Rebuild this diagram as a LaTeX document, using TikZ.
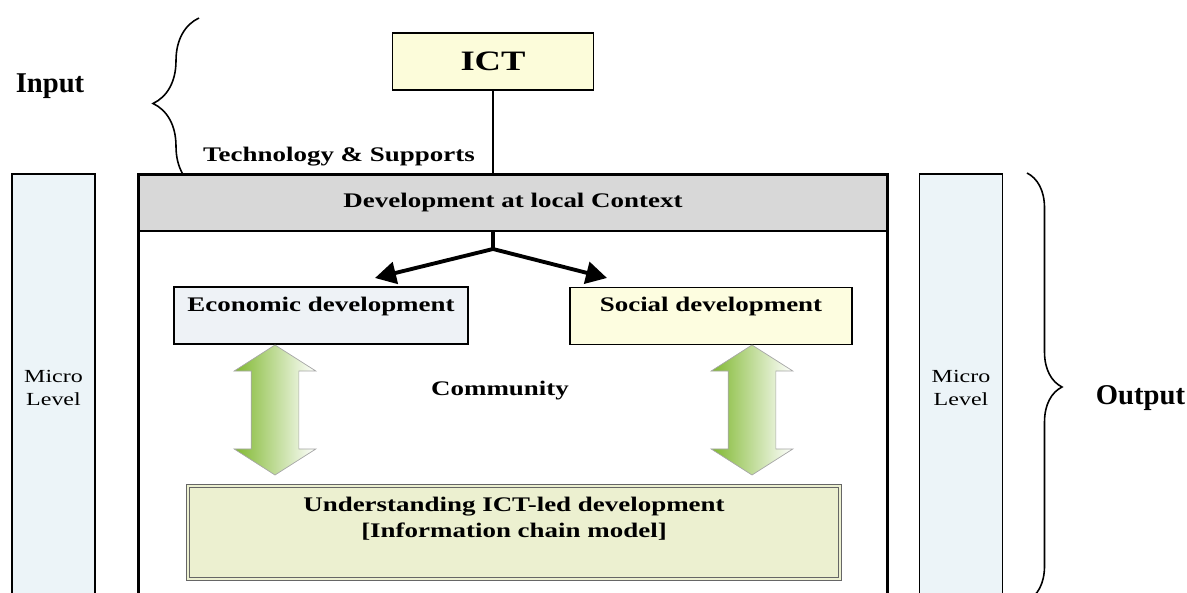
\documentclass[tikz,border=0pt]{standalone}
\usepackage{fontspec}
\setmainfont{Liberation Serif}
\newfontfamily\boxfont[FakeStretch=1.3]{Liberation Serif}
\usetikzlibrary{arrows.meta,shapes.arrows,decorations.pathreplacing}

\definecolor{ictyellow}{RGB}{252,252,218}
\definecolor{bargray}{RGB}{216,216,216}
\definecolor{econblue}{RGB}{238,242,246}
\definecolor{socialyellow}{RGB}{253,253,224}
\definecolor{chaingreen}{RGB}{236,240,208}
\definecolor{microblue}{RGB}{236,244,248}
\definecolor{arrowgreen}{RGB}{128,184,48}

\begin{document}
\begin{tikzpicture}[font=\boxfont\bfseries\fontsize{11.8}{14.7}\selectfont,
  box/.style={draw, line width=1.1pt, minimum height=1.14cm, text depth=0.45cm},
  micro/.style={draw, line width=1.1pt, fill=microblue, minimum width=1.66cm,
    minimum height=8.56cm, align=center, font=\boxfont\fontsize{10.5}{13}\selectfont},
  updown/.style={double arrow, rotate=90, minimum height=2.6cm, minimum width=1.62cm,
    inner xsep=0pt, inner ysep=0.47cm, double arrow head extend=0.34cm,
    double arrow tip angle=115, left color=arrowgreen, right color=white,
    draw=gray!70, line width=0.4pt},
  side/.style={font=\bfseries\fontsize{16.3}{19}\selectfont, anchor=base}]
  \useasboundingbox (0,0) rectangle (23.74,11.84);

  \node[side] (input) at (1.0,9.98) {Input};
  \draw[line width=0.9pt, decorate, decoration={brace, amplitude=0.92cm}]
    (3.98,8.06) -- (3.98,11.48);
  \node (support) at (6.78,8.70) {Technology \& Supports};

  \node[draw, line width=1.1pt, fill=ictyellow, minimum width=4.02cm, minimum height=1.14cm,
    font=\boxfont\bfseries\fontsize{16}{19}\selectfont] (ict) at (9.86,10.61) {ICT};

  \node[micro] (microleft) at (1.07,4.08) {Micro\\Level};
  \node[micro] (microright) at (19.22,4.08) {Micro\\Level};

  \node[draw, line width=1.1pt, fill=bargray, minimum width=14.94cm, minimum height=1.12cm]
    (bar) at (10.26,7.78) {Development at local Context};
  \draw[line width=1.7pt] (bar.west |- 0,-0.2) |- (bar.north east) -- (bar.east |- 0,-0.2);
  \draw[line width=0.9pt] (ict.south) -- (ict.south |- bar.north);

  \coordinate (fork) at (9.86,6.86);
  \coordinate (econtip) at (7.5,6.28);
  \coordinate (socialtip) at (12.14,6.28);
  \draw[line width=2.2pt] (fork |- bar.south) -- (fork);
  \draw[line width=2.2pt, -{Triangle[length=0.42cm,width=0.44cm]}] (fork) -- (econtip);
  \draw[line width=2.2pt, -{Triangle[length=0.42cm,width=0.44cm]}] (fork) -- (socialtip);

  \node[box, fill=econblue, minimum width=5.88cm] (econ) at (6.42,5.53) {Economic development};
  \node[box, fill=socialyellow, minimum width=5.64cm] (social) at (14.22,5.52) {Social development};
  \node (community) at (10.0,4.02) {Community};

  \node[updown] (econlink) at (5.5,3.64) {};
  \node[updown] (sociallink) at (15.04,3.64) {};

  \node[draw=black!60, double=chaingreen, double distance=1.6pt, line width=0.6pt,
    fill=chaingreen, minimum width=13.04cm, minimum height=1.86cm, align=center,
    text depth=0.6cm] (chain) at (10.28,1.19)
    {Understanding ICT-led development\\{[Information chain model]}};

  \draw[line width=0.9pt, decorate, decoration={brace, amplitude=0.7cm}]
    (20.54,8.38) -- (20.54,-0.18);
  \node[side] (output) at (22.81,3.74) {Output};
\end{tikzpicture}
\end{document}
